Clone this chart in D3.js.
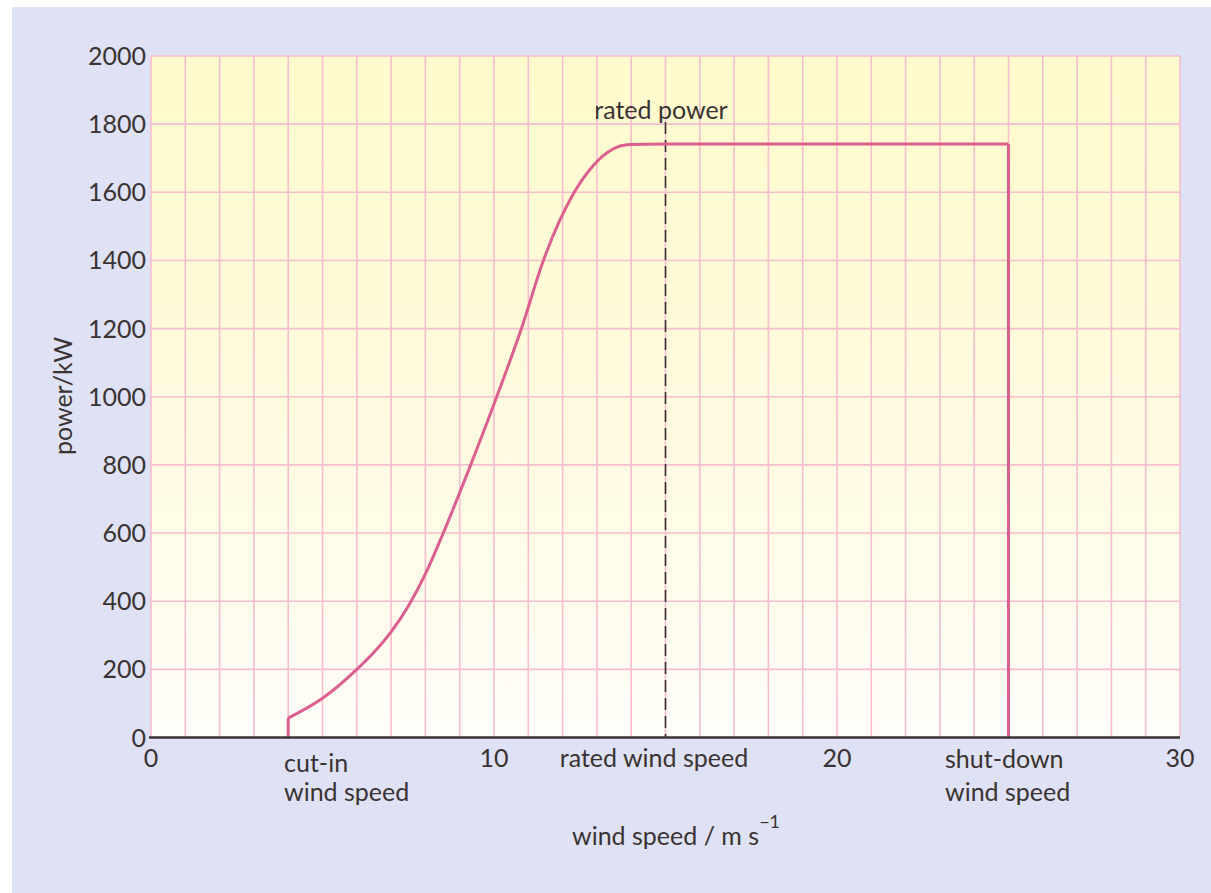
<!DOCTYPE html>
<html>
<head>
<meta charset="utf-8">
<script src="https://cdn.jsdelivr.net/npm/d3@7"></script>
<style>
  html, body { margin: 0; padding: 0; background: #ffffff; }
  svg { display: block; }
  text { font-family: Lato, "Open Sans", sans-serif; fill: #3a3333; }
</style>
</head>
<body>
<svg id="chart" width="1211" height="893"></svg>
<script>
// ---- data ----
const windSpeed = [4, 5, 6, 6.5, 7, 7.5, 8, 8.5, 9.3, 10.08, 10.8, 11.44, 12.34, 12.89, 13.47, 13.96, 15, 20, 25];
const power     = [57, 115, 200, 250, 310, 385, 480, 595, 795, 1000, 1200, 1400, 1600, 1678, 1727, 1740, 1742, 1742, 1742];
const cutIn = 4, ratedSpeed = 15, shutDown = 25;
const xTicks = [0, 10, 20, 30];
const yTicks = [0, 200, 400, 600, 800, 1000, 1200, 1400, 1600, 1800, 2000];
const xDomain = [0, 30], yDomain = [0, 2000];

const svg = d3.select("#chart");
const x = d3.scaleLinear().domain(xDomain).range([151, 1180]);
const y = d3.scaleLinear().domain(yDomain).range([737.5, 56]);

// background
svg.append("rect").attr("x", 12).attr("y", 7).attr("width", 1199).attr("height", 886).attr("fill", "#dfe1f4");

const defs = svg.append("defs");
const grad = defs.append("linearGradient").attr("id", "plotbg").attr("x1", 0).attr("y1", 0).attr("x2", 0).attr("y2", 1);
grad.append("stop").attr("offset", "0%").attr("stop-color", "#fffbcc");
grad.append("stop").attr("offset", "55%").attr("stop-color", "#fffbe0");
grad.append("stop").attr("offset", "100%").attr("stop-color", "#fffdf8");

svg.append("rect")
  .attr("x", x(0)).attr("y", y(2000))
  .attr("width", x(30) - x(0)).attr("height", y(0) - y(2000))
  .attr("fill", "url(#plotbg)");

// grid
const gridColor = "#f8bdd0";
svg.append("g").selectAll("line").data(d3.range(0, 31, 1)).join("line")
  .attr("x1", d => x(d)).attr("x2", d => x(d))
  .attr("y1", y(2000)).attr("y2", y(0))
  .attr("stroke", gridColor).attr("stroke-width", 1.6);
svg.append("g").selectAll("line").data(d3.range(200, 2001, 200)).join("line")
  .attr("x1", x(0)).attr("x2", x(30))
  .attr("y1", d => y(d)).attr("y2", d => y(d))
  .attr("stroke", gridColor).attr("stroke-width", 1.6);

// dashed rated speed line
svg.append("line")
  .attr("x1", x(ratedSpeed)).attr("x2", x(ratedSpeed))
  .attr("y1", 122).attr("y2", y(0))
  .attr("stroke", "#3a3333").attr("stroke-width", 1.6)
  .attr("stroke-dasharray", "12,6");

// curve
const curveColor = "#dd5f8f";
const pts = windSpeed.map((w, i) => [w, power[i]]);
const smooth = d3.line().x(d => x(d[0])).y(d => y(d[1])).curve(d3.curveMonotoneX);
const straight = d3.line().x(d => x(d[0])).y(d => y(d[1]));
svg.append("path").attr("d", straight([[cutIn, 0], [cutIn, power[0]]]))
  .attr("fill", "none").attr("stroke", curveColor).attr("stroke-width", 3);
svg.append("path").attr("d", smooth(pts))
  .attr("fill", "none").attr("stroke", curveColor).attr("stroke-width", 3).attr("stroke-linejoin", "round");
svg.append("path").attr("d", straight([[shutDown, power[power.length - 1]], [shutDown, 0]]))
  .attr("fill", "none").attr("stroke", curveColor).attr("stroke-width", 3);

// x axis line
svg.append("line").attr("x1", x(0) - 2).attr("x2", x(30))
  .attr("y1", y(0)).attr("y2", y(0))
  .attr("stroke", "#3a3333").attr("stroke-width", 2.5);

// y tick labels
svg.append("g").selectAll("text").data(yTicks).join("text")
  .attr("x", 146).attr("y", d => y(d))
  .attr("dy", "0.36em")
  .attr("text-anchor", "end")
  .attr("font-size", 25)
  .text(d => d);

// x tick labels
svg.append("g").selectAll("text").data(xTicks).join("text")
  .attr("x", d => x(d)).attr("y", 767)
  .attr("text-anchor", "middle")
  .attr("font-size", 25)
  .text(d => d);

// annotations
const fs = 25;
svg.append("text").attr("x", 284).attr("y", 772).attr("font-size", fs).text("cut-in");
svg.append("text").attr("x", 284).attr("y", 801).attr("font-size", fs).text("wind speed");
svg.append("text").attr("x", 654).attr("y", 767).attr("text-anchor", "middle").attr("font-size", fs).text("rated wind speed");
svg.append("text").attr("x", 945).attr("y", 768).attr("font-size", fs).text("shut-down");
svg.append("text").attr("x", 945).attr("y", 801).attr("font-size", fs).text("wind speed");
svg.append("text").attr("x", 661).attr("y", 119).attr("text-anchor", "middle").attr("font-size", fs).text("rated power");

// axis titles
const xt = svg.append("text").attr("x", 572).attr("y", 845).attr("font-size", fs);
xt.append("tspan").text("wind speed / m s");
xt.append("tspan").attr("dy", -17).attr("font-size", 18).text("−1");

svg.append("text")
  .attr("transform", "translate(72,396) rotate(-90)")
  .attr("text-anchor", "middle")
  .attr("font-size", fs)
  .text("power/kW");
</script>
</body>
</html>
